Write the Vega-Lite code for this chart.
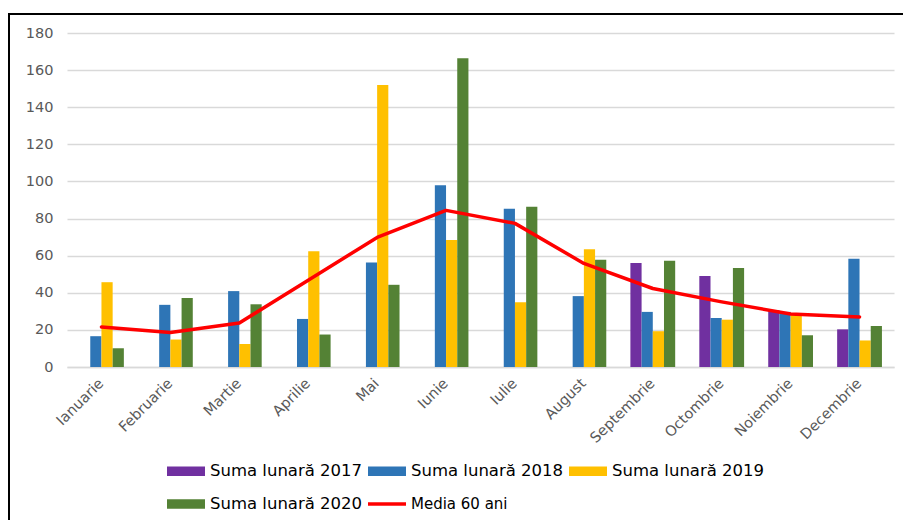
{
  "$schema": "https://vega.github.io/schema/vega-lite/v6.json",
  "autosize": "none",
  "width": 900,
  "height": 510,
  "padding": {"left": 9, "top": 14, "right": 0, "bottom": 0},
  "background": "white",
  "config": {
    "view": {"stroke": "#000000", "strokeWidth": 2},
    "font": "DejaVu Sans"
  },
  "data": {
    "values": [
      {"luna": "Septembrie", "serie": "Suma lunară 2017", "valoare": 56},
      {"luna": "Octombrie", "serie": "Suma lunară 2017", "valoare": 49},
      {"luna": "Noiembrie", "serie": "Suma lunară 2017", "valoare": 30.6},
      {"luna": "Decembrie", "serie": "Suma lunară 2017", "valoare": 20.3},
      {"luna": "Ianuarie", "serie": "Suma lunară 2018", "valoare": 16.6},
      {"luna": "Februarie", "serie": "Suma lunară 2018", "valoare": 33.5},
      {"luna": "Martie", "serie": "Suma lunară 2018", "valoare": 40.9},
      {"luna": "Aprilie", "serie": "Suma lunară 2018", "valoare": 25.9},
      {"luna": "Mai", "serie": "Suma lunară 2018", "valoare": 56.3},
      {"luna": "Iunie", "serie": "Suma lunară 2018", "valoare": 98},
      {"luna": "Iulie", "serie": "Suma lunară 2018", "valoare": 85.3},
      {"luna": "August", "serie": "Suma lunară 2018", "valoare": 38.2},
      {"luna": "Septembrie", "serie": "Suma lunară 2018", "valoare": 29.7},
      {"luna": "Octombrie", "serie": "Suma lunară 2018", "valoare": 26.4},
      {"luna": "Noiembrie", "serie": "Suma lunară 2018", "valoare": 29.7},
      {"luna": "Decembrie", "serie": "Suma lunară 2018", "valoare": 58.3},
      {"luna": "Ianuarie", "serie": "Suma lunară 2019", "valoare": 45.7},
      {"luna": "Februarie", "serie": "Suma lunară 2019", "valoare": 14.8},
      {"luna": "Martie", "serie": "Suma lunară 2019", "valoare": 12.4},
      {"luna": "Aprilie", "serie": "Suma lunară 2019", "valoare": 62.4},
      {"luna": "Mai", "serie": "Suma lunară 2019", "valoare": 152},
      {"luna": "Iunie", "serie": "Suma lunară 2019", "valoare": 68.5},
      {"luna": "Iulie", "serie": "Suma lunară 2019", "valoare": 34.9},
      {"luna": "August", "serie": "Suma lunară 2019", "valoare": 63.4},
      {"luna": "Septembrie", "serie": "Suma lunară 2019", "valoare": 19.3},
      {"luna": "Octombrie", "serie": "Suma lunară 2019", "valoare": 25.5},
      {"luna": "Noiembrie", "serie": "Suma lunară 2019", "valoare": 28.8},
      {"luna": "Decembrie", "serie": "Suma lunară 2019", "valoare": 14.3},
      {"luna": "Ianuarie", "serie": "Suma lunară 2020", "valoare": 10.1},
      {"luna": "Februarie", "serie": "Suma lunară 2020", "valoare": 37.2},
      {"luna": "Martie", "serie": "Suma lunară 2020", "valoare": 33.8},
      {"luna": "Aprilie", "serie": "Suma lunară 2020", "valoare": 17.5},
      {"luna": "Mai", "serie": "Suma lunară 2020", "valoare": 44.3},
      {"luna": "Iunie", "serie": "Suma lunară 2020", "valoare": 166.4},
      {"luna": "Iulie", "serie": "Suma lunară 2020", "valoare": 86.3},
      {"luna": "August", "serie": "Suma lunară 2020", "valoare": 57.8},
      {"luna": "Septembrie", "serie": "Suma lunară 2020", "valoare": 57.2},
      {"luna": "Octombrie", "serie": "Suma lunară 2020", "valoare": 53.4},
      {"luna": "Noiembrie", "serie": "Suma lunară 2020", "valoare": 17.1},
      {"luna": "Decembrie", "serie": "Suma lunară 2020", "valoare": 22.1},
      {"luna": "Ianuarie", "serie": "Media 60 ani", "valoare": 21.6},
      {"luna": "Februarie", "serie": "Media 60 ani", "valoare": 18.6},
      {"luna": "Martie", "serie": "Media 60 ani", "valoare": 23.7},
      {"luna": "Aprilie", "serie": "Media 60 ani", "valoare": 46.8},
      {"luna": "Mai", "serie": "Media 60 ani", "valoare": 69.8},
      {"luna": "Iunie", "serie": "Media 60 ani", "valoare": 84.4},
      {"luna": "Iulie", "serie": "Media 60 ani", "valoare": 77.4},
      {"luna": "August", "serie": "Media 60 ani", "valoare": 55.8},
      {"luna": "Septembrie", "serie": "Media 60 ani", "valoare": 42.3},
      {"luna": "Octombrie", "serie": "Media 60 ani", "valoare": 35.1},
      {"luna": "Noiembrie", "serie": "Media 60 ani", "valoare": 28.6},
      {"luna": "Decembrie", "serie": "Media 60 ani", "valoare": 27}
    ]
  },
  "encoding": {
    "x": {
      "field": "luna",
      "type": "nominal",
      "sort": ["Ianuarie", "Februarie", "Martie", "Aprilie", "Mai", "Iunie", "Iulie", "August", "Septembrie", "Octombrie", "Noiembrie", "Decembrie"],
      "scale": {"range": [58, 885], "paddingInner": 0.35, "paddingOuter": 0.175},
      "axis": {
        "title": null,
        "offset": -157,
        "labelAngle": -45,
        "labelAlign": "right",
        "labelBaseline": "middle",
        "labelPadding": 14,
        "labelFont": "DejaVu Sans",
        "labelFontSize": 14.5,
        "labelColor": "#595959",
        "ticks": false,
        "domain": true,
        "domainColor": "#d9d9d9",
        "domainWidth": 1.5,
        "grid": false
      }
    },
    "y": {
      "field": "valoare",
      "type": "quantitative",
      "scale": {"domain": [0, 180], "range": [353, 19], "nice": false},
      "axis": {
        "title": null,
        "offset": -58,
        "values": [0, 20, 40, 60, 80, 100, 120, 140, 160, 180],
        "labelFont": "DejaVu Sans",
        "labelFontSize": 14.5,
        "labelColor": "#595959",
        "labelPadding": 14,
        "ticks": false,
        "domain": false,
        "grid": true,
        "gridColor": "#d9d9d9",
        "gridWidth": 1.5
      }
    },
    "color": {
      "field": "serie",
      "type": "nominal",
      "scale": {
        "domain": ["Suma lunară 2017", "Suma lunară 2018", "Suma lunară 2019", "Suma lunară 2020", "Media 60 ani"],
        "range": ["#7030A0", "#2E75B6", "#FFC000", "#548235", "#FF0000"]
      },
      "legend": {
        "title": null,
        "orient": "none",
        "legendX": 158,
        "legendY": 438,
        "direction": "horizontal",
        "columns": 3,
        "columnPadding": 5,
        "rowPadding": 5,
        "symbolSize": 1444,
        "labelOffset": 5,
        "labelFont": "DejaVu Sans",
        "labelFontSize": 16.5,
        "labelColor": "#000000",
        "labelLimit": 300,
        "padding": 0,
        "encode": {
          "symbols": {
            "update": {
              "shape": {"signal": "datum.value === 'Media 60 ani' ? 'M-1,-0.09H1V0.09H-1Z' : 'M-1,-0.25H1V0.25H-1Z'"},
              "fill": {"signal": "scale('color', datum.value)"},
              "stroke": {"value": "transparent"},
              "strokeWidth": {"value": 0},
              "opacity": {"value": 1}
            }
          },
          "labels": {
            "update": {
              "fontSize": {"signal": "datum.value === 'Media 60 ani' ? 15 : 16.5"}
            }
          }
        }
      }
    }
  },
  "layer": [
    {
      "transform": [{"filter": "datum.serie !== 'Media 60 ani'"}],
      "mark": {"type": "bar"},
      "encoding": {
        "xOffset": {
          "field": "serie",
          "type": "nominal",
          "scale": {"domain": ["Suma lunară 2017", "Suma lunară 2018", "Suma lunară 2019", "Suma lunară 2020"], "paddingInner": 0, "paddingOuter": 0}
        }
      }
    },
    {
      "transform": [{"filter": "datum.serie === 'Media 60 ani'"}],
      "mark": {"type": "line", "strokeWidth": 3.5, "strokeCap": "round", "strokeJoin": "round"},
      "encoding": {}
    }
  ]
}
